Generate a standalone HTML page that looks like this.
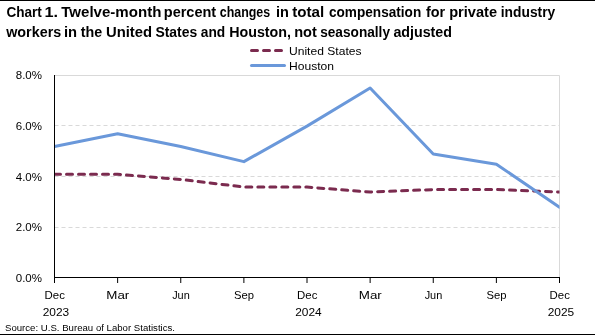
<!DOCTYPE html>
<html><head><meta charset="utf-8"><style>
html,body{margin:0;padding:0;background:#fff;}
svg{display:block;font-family:"Liberation Sans", sans-serif;will-change:transform;}
</style></head><body>
<svg width="595" height="335" viewBox="0 0 595 335">
<rect x="0" y="0" width="595" height="335" fill="#fff"/>
<rect x="0" y="0" width="595" height="1" fill="#000"/>
<rect x="0" y="334" width="595" height="1" fill="#000"/>
<g font-weight="bold" font-size="14.8" fill="#000">
<text x="6.38" y="16.7" textLength="35.43" lengthAdjust="spacingAndGlyphs">Chart</text>
<text x="44.50" y="16.7" textLength="13.59" lengthAdjust="spacingAndGlyphs">1.</text>
<text x="61.19" y="16.7" textLength="100.23" lengthAdjust="spacingAndGlyphs">Twelve-month</text>
<text x="163.79" y="16.7" textLength="52.42" lengthAdjust="spacingAndGlyphs">percent</text>
<text x="219.78" y="16.7" textLength="50.44" lengthAdjust="spacingAndGlyphs">changes</text>
<text x="275.92" y="16.7" textLength="12.91" lengthAdjust="spacingAndGlyphs">in</text>
<text x="292.20" y="16.7" textLength="32.02" lengthAdjust="spacingAndGlyphs">total</text>
<text x="329.00" y="16.7" textLength="92.20" lengthAdjust="spacingAndGlyphs">compensation</text>
<text x="426.00" y="16.7" textLength="19.22" lengthAdjust="spacingAndGlyphs">for</text>
<text x="449.16" y="16.7" textLength="47.87" lengthAdjust="spacingAndGlyphs">private</text>
<text x="500.79" y="16.7" textLength="54.42" lengthAdjust="spacingAndGlyphs">industry</text>
<text x="6.20" y="36.8" textLength="55.01" lengthAdjust="spacingAndGlyphs">workers</text>
<text x="63.98" y="36.8" textLength="13.10" lengthAdjust="spacingAndGlyphs">in</text>
<text x="80.77" y="36.8" textLength="21.46" lengthAdjust="spacingAndGlyphs">the</text>
<text x="105.95" y="36.8" textLength="46.10" lengthAdjust="spacingAndGlyphs">United</text>
<text x="155.39" y="36.8" textLength="41.83" lengthAdjust="spacingAndGlyphs">States</text>
<text x="200.78" y="36.8" textLength="24.44" lengthAdjust="spacingAndGlyphs">and</text>
<text x="229.18" y="36.8" textLength="61.83" lengthAdjust="spacingAndGlyphs">Houston,</text>
<text x="294.16" y="36.8" textLength="22.65" lengthAdjust="spacingAndGlyphs">not</text>
<text x="320.19" y="36.8" textLength="69.82" lengthAdjust="spacingAndGlyphs">seasonally</text>
<text x="393.39" y="36.8" textLength="58.63" lengthAdjust="spacingAndGlyphs">adjusted</text>

</g>
<line x1="251.5" y1="50.5" x2="283" y2="50.5" stroke="#7B2B4F" stroke-width="3" stroke-linecap="round" stroke-dasharray="6 6"/>
<line x1="251.5" y1="65.5" x2="284.5" y2="65.5" stroke="#6A98DA" stroke-width="3" stroke-linecap="round"/>
<g font-size="11" fill="#000">
<text x="289" y="54.6" textLength="72.5" lengthAdjust="spacingAndGlyphs">United States</text>
<text x="289" y="70.1" textLength="45" lengthAdjust="spacingAndGlyphs">Houston</text>
</g>
<line x1="54.5" y1="75.5" x2="559.5" y2="75.5" stroke="#D9D9D9" stroke-width="1"/>
<line x1="559.5" y1="75.5" x2="559.5" y2="277.5" stroke="#D9D9D9" stroke-width="1"/>
<line x1="54.5" y1="227.5" x2="559.5" y2="227.5" stroke="#D9D9D9" stroke-width="1" stroke-dasharray="4 3"/>
<line x1="54.5" y1="176.5" x2="559.5" y2="176.5" stroke="#D9D9D9" stroke-width="1" stroke-dasharray="4 3"/>
<line x1="54.5" y1="125.5" x2="559.5" y2="125.5" stroke="#D9D9D9" stroke-width="1" stroke-dasharray="4 3"/>

<defs><clipPath id="pa"><rect x="54.5" y="70" width="505" height="210"/></clipPath></defs>
<g clip-path="url(#pa)" fill="none">
<path d="M54.50,174.34 L117.62,174.34 L180.75,179.42 L243.88,187.03 L307.00,187.03 L370.12,192.11 L433.25,189.57 L496.38,189.57 L559.50,192.11" stroke="#7B2B4F" stroke-width="3" stroke-linecap="round" stroke-linejoin="round" stroke-dasharray="6 6"/>
<path d="M54.50,146.42 L117.62,133.73 L180.75,146.42 L243.88,161.65 L307.00,126.12 L370.12,88.05 L433.25,154.04 L496.38,164.19 L559.50,207.34" stroke="#6A98DA" stroke-width="3" stroke-linecap="round" stroke-linejoin="round"/>
</g>
<line x1="54.5" y1="75" x2="54.5" y2="283" stroke="#000" stroke-width="1"/>
<line x1="54" y1="277.5" x2="560" y2="277.5" stroke="#000" stroke-width="1"/>
<line x1="54.5" y1="277" x2="54.5" y2="283" stroke="#000" stroke-width="1"/>
<line x1="117.625" y1="277" x2="117.625" y2="283" stroke="#000" stroke-width="1"/>
<line x1="180.75" y1="277" x2="180.75" y2="283" stroke="#000" stroke-width="1"/>
<line x1="243.875" y1="277" x2="243.875" y2="283" stroke="#000" stroke-width="1"/>
<line x1="307.0" y1="277" x2="307.0" y2="283" stroke="#000" stroke-width="1"/>
<line x1="370.125" y1="277" x2="370.125" y2="283" stroke="#000" stroke-width="1"/>
<line x1="433.25" y1="277" x2="433.25" y2="283" stroke="#000" stroke-width="1"/>
<line x1="496.375" y1="277" x2="496.375" y2="283" stroke="#000" stroke-width="1"/>
<line x1="559.5" y1="277" x2="559.5" y2="283" stroke="#000" stroke-width="1"/>

<g fill="#000">
<text x="42" y="282.4" text-anchor="end" font-size="11.5">0.0%</text>
<text x="42" y="231.4" text-anchor="end" font-size="11.5">2.0%</text>
<text x="42" y="181.4" text-anchor="end" font-size="11.5">4.0%</text>
<text x="42" y="130.3" text-anchor="end" font-size="11.5">6.0%</text>
<text x="42" y="79.4" text-anchor="end" font-size="11.5">8.0%</text>

<text x="44.55" y="298.8" font-size="11.5" textLength="20.3" lengthAdjust="spacingAndGlyphs">Dec</text>
<text x="106.33" y="298.8" font-size="11.5" textLength="23.0" lengthAdjust="spacingAndGlyphs">Mar</text>
<text x="172.15" y="298.8" font-size="11.5" textLength="17.6" lengthAdjust="spacingAndGlyphs">Jun</text>
<text x="234.07" y="298.8" font-size="11.5" textLength="20.0" lengthAdjust="spacingAndGlyphs">Sep</text>
<text x="297.05" y="298.8" font-size="11.5" textLength="20.3" lengthAdjust="spacingAndGlyphs">Dec</text>
<text x="358.82" y="298.8" font-size="11.5" textLength="23.0" lengthAdjust="spacingAndGlyphs">Mar</text>
<text x="424.65" y="298.8" font-size="11.5" textLength="17.6" lengthAdjust="spacingAndGlyphs">Jun</text>
<text x="486.57" y="298.8" font-size="11.5" textLength="20.0" lengthAdjust="spacingAndGlyphs">Sep</text>
<text x="549.55" y="298.8" font-size="11.5" textLength="20.3" lengthAdjust="spacingAndGlyphs">Dec</text>
<text x="42.70" y="316.4" font-size="11.5" textLength="26.5" lengthAdjust="spacingAndGlyphs">2023</text>
<text x="295.20" y="316.4" font-size="11.5" textLength="26.5" lengthAdjust="spacingAndGlyphs">2024</text>
<text x="547.70" y="316.4" font-size="11.5" textLength="26.5" lengthAdjust="spacingAndGlyphs">2025</text>

</g>
<text x="5" y="330.8" font-size="9.7" fill="#000" textLength="170" lengthAdjust="spacingAndGlyphs">Source: U.S. Bureau of Labor Statistics.</text>
</svg>
</body></html>
